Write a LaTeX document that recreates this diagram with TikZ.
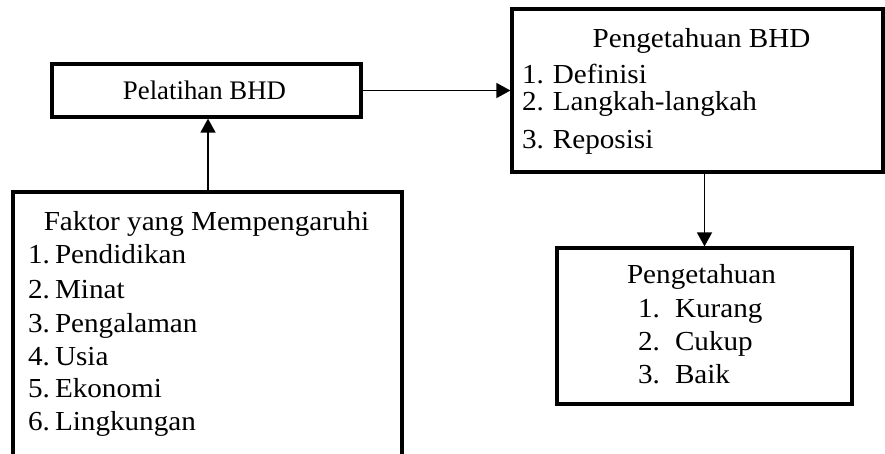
\documentclass[tikz,border=0pt]{standalone}
\usepackage{fontspec}
\usepackage{graphicx}
\setmainfont{Liberation Serif}
\usetikzlibrary{arrows.meta}
\tikzset{
  box/.style={draw=black, line width=3.2pt, rectangle, inner sep=0pt, fill=none},
  arr/.style={draw=black, line width=1.5pt, -{Triangle[length=14pt,width=15pt]}},
  txt/.style={inner sep=0pt, outer sep=0pt, font=\fontsize{27.5}{33}\selectfont},
  smalltxt/.style={inner sep=0pt, outer sep=0pt, font=\fontsize{26.8}{32}\selectfont},
}
\newcommand{\sx}[1]{\scalebox{1.06}[1]{#1}}
\newcommand{\numbx}[2]{\makebox[#1][l]{#2}}
\begin{document}
\begin{tikzpicture}[x=1pt,y=-1pt]
\useasboundingbox (0,0) rectangle (885,453);
\clip (0,0) rectangle (885,453);
% boxes
\node[box, minimum width=309pt, minimum height=53pt] (pel) at (206.5,90.5) {};
\node[box, minimum width=371pt, minimum height=163pt] (bhd) at (697.5,90.5) {};
\node[box, minimum width=389pt, minimum height=300pt] (fak) at (207.5,342) {};
\node[box, minimum width=295pt, minimum height=156pt] (peng) at (704.5,326) {};
% texts
\node[smalltxt, anchor=base] (tpel) at (204.5,99.5) {Pelatihan BHD};
\node[txt, anchor=base] (tbhd) at (701.5,47) {\sx{Pengetahuan BHD}};
\node[txt, anchor=base west] (b1) at (522,83) {\sx{\numbx{29.2pt}{1.}Definisi}};
\node[txt, anchor=base west] (b2) at (522,110) {\sx{\numbx{29.2pt}{2.}Langkah-langkah}};
\node[txt, anchor=base west] (b3) at (522,148) {\sx{\numbx{29.2pt}{3.}Reposisi}};
\node[txt, anchor=base] (tfak) at (206.5,230) {\sx{Faktor yang Mempengaruhi}};
\node[txt, anchor=base west] (f1) at (28,263) {\sx{\numbx{25.5pt}{1.}Pendidikan}};
\node[txt, anchor=base west] (f2) at (28,298) {\sx{\numbx{25.5pt}{2.}Minat}};
\node[txt, anchor=base west] (f3) at (28,332) {\sx{\numbx{25.5pt}{3.}Pengalaman}};
\node[txt, anchor=base west] (f4) at (28,365) {\sx{\numbx{25.5pt}{4.}Usia}};
\node[txt, anchor=base west] (f5) at (28,397) {\sx{\numbx{25.5pt}{5.}Ekonomi}};
\node[txt, anchor=base west] (f6) at (28,430) {\sx{\numbx{25.5pt}{6.}Lingkungan}};
\node[txt, anchor=base] (tpeng) at (701.5,283) {\sx{Pengetahuan}};
\node[txt, anchor=base west] (p1) at (638,317) {\sx{\numbx{34.9pt}{1.}Kurang}};
\node[txt, anchor=base west] (p2) at (638,350) {\sx{\numbx{34.9pt}{2.}Cukup}};
\node[txt, anchor=base west] (p3) at (638,383) {\sx{\numbx{34.9pt}{3.}Baik}};
% connectors
\draw[arr] (pel.east) -- (pel.east -| bhd.west);
\draw[arr] (fak.north -| 208,0) -- (pel.south -| 208,0);
\draw[arr] (peng.north |- bhd.south) -- (peng.north);
\end{tikzpicture}
\end{document}
